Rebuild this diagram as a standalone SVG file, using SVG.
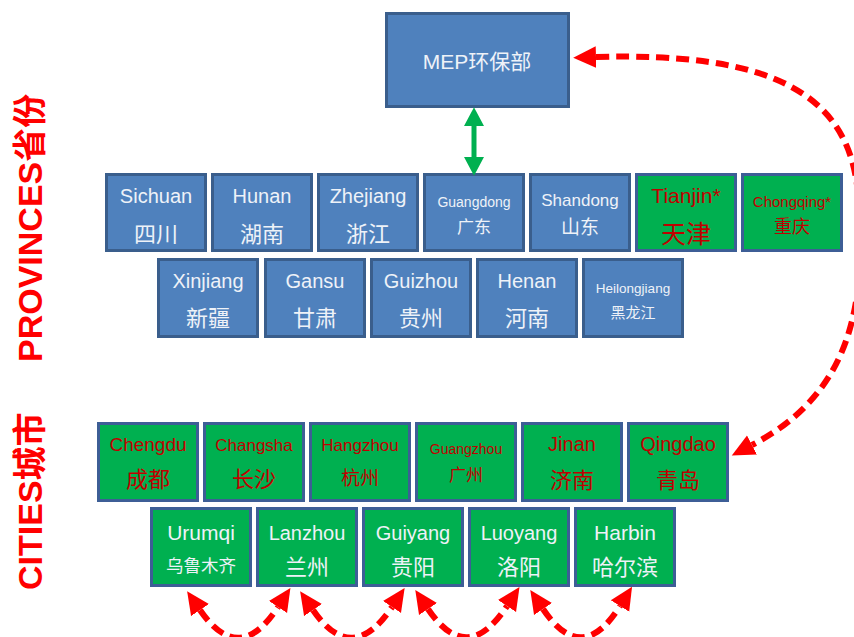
<svg xmlns="http://www.w3.org/2000/svg" width="854" height="637" viewBox="0 0 854 637">
<style>
.bb{fill:#4f81bd;stroke:#3a5e8c;stroke-width:3}
.gb{fill:#00b050;stroke:#3d5e96;stroke-width:3}
text{font-family:"Liberation Sans","Noto Sans CJK SC",sans-serif;text-anchor:middle}
.cj{font-family:"Noto Sans CJK SC","Liberation Sans",sans-serif}
.w{fill:#eef2f8}
.r{fill:#c00000}
.side{fill:#ff0000;font-weight:bold;font-size:34px;text-anchor:start}
.rd{fill:none;stroke:#ff0000;stroke-width:6;stroke-dasharray:13 7}
</style>
<defs>
<marker id="ra" markerUnits="userSpaceOnUse" markerWidth="24" markerHeight="24" refX="0" refY="9" orient="auto-start-reverse" viewBox="0 0 20 18">
<path d="M0,0 L19,9 L0,18 z" fill="#ff0000"/>
</marker>
<marker id="ga" markerUnits="userSpaceOnUse" markerWidth="20" markerHeight="20" refX="0" refY="8" orient="auto-start-reverse" viewBox="0 0 16 16">
<path d="M0,0 L15,8 L0,16 z" fill="#00b050"/>
</marker>
</defs>

<text class="side" transform="rotate(-90 42 362)" x="42" y="362">PROVINCES<tspan class="cj">省份</tspan></text>
<text class="side" transform="rotate(-90 42 590)" x="42" y="590">CITIES<tspan class="cj">城市</tspan></text>

<g id="mep"><rect class="bb" x="386.5" y="13.5" width="182" height="93"/><text class="w" x="477" y="69" font-size="21">MEP<tspan class="cj">环保部</tspan></text></g>

<g id="sichuan"><rect class="bb" x="106.5" y="174.5" width="99" height="76"/><text class="w" x="156" y="203" font-size="20">Sichuan</text><text class="w cj" x="156" y="242" font-size="22">四川</text></g>
<g id="hunan"><rect class="bb" x="212.5" y="174.5" width="99" height="76"/><text class="w" x="262" y="203" font-size="20">Hunan</text><text class="w cj" x="262" y="242" font-size="22">湖南</text></g>
<g id="zhejiang"><rect class="bb" x="318.5" y="174.5" width="99" height="76"/><text class="w" x="368" y="203" font-size="20">Zhejiang</text><text class="w cj" x="368" y="242" font-size="22">浙江</text></g>
<g id="guangdong"><rect class="bb" x="424.5" y="174.5" width="99" height="76"/><text class="w" x="474" y="207" font-size="14">Guangdong</text><text class="w cj" x="474" y="233" font-size="17">广东</text></g>
<g id="shandong"><rect class="bb" x="530.5" y="174.5" width="99" height="76"/><text class="w" x="580" y="206" font-size="17">Shandong</text><text class="w cj" x="580" y="234" font-size="19">山东</text></g>
<g id="tianjin"><rect class="gb" x="636.5" y="174.5" width="99" height="76"/><text class="r" x="686" y="203" font-size="21">Tianjin*</text><text class="r cj" x="686" y="243" font-size="25">天津</text></g>
<g id="chongqing"><rect class="gb" x="742.5" y="174.5" width="99" height="76"/><text class="r" x="792" y="207" font-size="15">Chongqing*</text><text class="r cj" x="792" y="233" font-size="18">重庆</text></g>

<g id="xinjiang"><rect class="bb" x="158.5" y="259.5" width="99" height="77"/><text class="w" x="208" y="288" font-size="20">Xinjiang</text><text class="w cj" x="208" y="326" font-size="22">新疆</text></g>
<g id="gansu"><rect class="bb" x="265.5" y="259.5" width="99" height="77"/><text class="w" x="315" y="288" font-size="20">Gansu</text><text class="w cj" x="315" y="326" font-size="22">甘肃</text></g>
<g id="guizhou"><rect class="bb" x="371.5" y="259.5" width="99" height="77"/><text class="w" x="421" y="288" font-size="20">Guizhou</text><text class="w cj" x="421" y="326" font-size="22">贵州</text></g>
<g id="henan"><rect class="bb" x="477.5" y="259.5" width="99" height="77"/><text class="w" x="527" y="288" font-size="20">Henan</text><text class="w cj" x="527" y="326" font-size="22">河南</text></g>
<g id="heilongjiang"><rect class="bb" x="583.5" y="259.5" width="99" height="77"/><text class="w" x="633" y="293" font-size="13.5">Heilongjiang</text><text class="w cj" x="633" y="318" font-size="15">黑龙江</text></g>

<g id="chengdu"><rect class="gb" x="98.5" y="423.5" width="99" height="77"/><text class="r" x="148" y="451" font-size="19">Chengdu</text><text class="r cj" x="148" y="487" font-size="22">成都</text></g>
<g id="changsha"><rect class="gb" x="204.5" y="423.5" width="99" height="77"/><text class="r" x="254" y="451" font-size="17">Changsha</text><text class="r cj" x="254" y="487" font-size="22">长沙</text></g>
<g id="hangzhou"><rect class="gb" x="310.5" y="423.5" width="99" height="77"/><text class="r" x="360" y="451" font-size="17">Hangzhou</text><text class="r cj" x="360" y="485" font-size="19">杭州</text></g>
<g id="guangzhou"><rect class="gb" x="416.5" y="423.5" width="99" height="77"/><text class="r" x="466" y="454" font-size="14">Guangzhou</text><text class="r cj" x="466" y="481" font-size="17">广州</text></g>
<g id="jinan"><rect class="gb" x="522.5" y="423.5" width="99" height="77"/><text class="r" x="572" y="451" font-size="20">Jinan</text><text class="r cj" x="572" y="488" font-size="22">济南</text></g>
<g id="qingdao"><rect class="gb" x="628.5" y="423.5" width="99" height="77"/><text class="r" x="678" y="451" font-size="20">Qingdao</text><text class="r cj" x="678" y="488" font-size="22">青岛</text></g>

<g id="urumqi"><rect class="gb" x="151.5" y="508.5" width="99" height="77"/><text class="w" x="201" y="540" font-size="21">Urumqi</text><text class="w cj" x="201" y="572" font-size="17.5">乌鲁木齐</text></g>
<g id="lanzhou"><rect class="gb" x="257.5" y="508.5" width="99" height="77"/><text class="w" x="307" y="540" font-size="20">Lanzhou</text><text class="w cj" x="307" y="575" font-size="22">兰州</text></g>
<g id="guiyang"><rect class="gb" x="363.5" y="508.5" width="99" height="77"/><text class="w" x="413" y="540" font-size="20">Guiyang</text><text class="w cj" x="413" y="575" font-size="22">贵阳</text></g>
<g id="luoyang"><rect class="gb" x="469.5" y="508.5" width="99" height="77"/><text class="w" x="519" y="540" font-size="20">Luoyang</text><text class="w cj" x="519" y="575" font-size="22">洛阳</text></g>
<g id="harbin"><rect class="gb" x="575.5" y="508.5" width="99" height="77"/><text class="w" x="625" y="540" font-size="21">Harbin</text><text class="w cj" x="625" y="575" font-size="22">哈尔滨</text></g>

<g id="connectors">
<path d="M474 126 L474 157" fill="none" stroke="#00b050" stroke-width="5" marker-start="url(#ga)" marker-end="url(#ga)"/>
<path class="rd" d="M596 57 C765 52 850 90 858 195 C868 310 848 395 752 445" marker-start="url(#ra)" marker-end="url(#ra)"/>
<path class="rd" d="M200 610 Q239 667 278 607" marker-start="url(#ra)" marker-end="url(#ra)"/>
<path class="rd" d="M313 610 Q352 667 392 607" marker-start="url(#ra)" marker-end="url(#ra)"/>
<path class="rd" d="M428 609 Q467 667 507 606" marker-start="url(#ra)" marker-end="url(#ra)"/>
<path class="rd" d="M543 609 Q582 667 620 606" marker-start="url(#ra)" marker-end="url(#ra)"/>
</g>
</svg>
